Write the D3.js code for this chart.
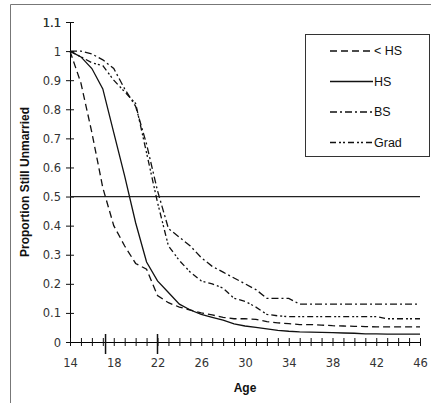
<!DOCTYPE html>
<html>
<head>
<meta charset="utf-8">
<script src="https://cdn.jsdelivr.net/npm/d3@7"></script>
<style>
body { margin:0; background:#fff; }
.tick text { font-family:"DejaVu Sans", sans-serif; font-size:11.5px; fill:#333; }
.ttl { font-family:"Liberation Sans", Arial, sans-serif; font-size:12px; font-weight:bold; fill:#111; }
.leg { font-family:"Liberation Sans", Arial, sans-serif; font-size:12.5px; fill:#111; }
</style>
</head>
<body>
<div id="chart"></div>
<script>
var ages = d3.range(14, 47);

// proportion still unmarried (ages 14..46)
var lessHS = [1, 0.89, 0.72, 0.53, 0.40, 0.33, 0.27, 0.25, 0.16, 0.135, 0.12, 0.11, 0.10, 0.093, 0.085, 0.08, 0.08,
  0.078, 0.07, 0.066, 0.063, 0.06, 0.06, 0.058, 0.056, 0.055, 0.054, 0.053, 0.052, 0.052, 0.052, 0.052, 0.052];
var hs = [1, 0.98, 0.94, 0.87, 0.72, 0.57, 0.41, 0.275, 0.21, 0.17, 0.13, 0.11, 0.095, 0.085, 0.075, 0.062, 0.055,
  0.05, 0.045, 0.04, 0.037, 0.035, 0.034, 0.033, 0.032, 0.031, 0.03, 0.028, 0.028, 0.027, 0.027, 0.027, 0.027];
var bs = [1, 1, 0.99, 0.97, 0.94, 0.87, 0.81, 0.68, 0.52, 0.39, 0.36, 0.33, 0.29, 0.26, 0.24, 0.22, 0.2,
  0.18, 0.15, 0.15, 0.15, 0.13, 0.13, 0.13, 0.13, 0.13, 0.13, 0.13, 0.13, 0.13, 0.13, 0.13, 0.13];
var grad = [1, 0.98, 0.96, 0.95, 0.9, 0.86, 0.82, 0.65, 0.48, 0.33, 0.28, 0.24, 0.21, 0.2, 0.185, 0.15, 0.14,
  0.12, 0.095, 0.09, 0.087, 0.087, 0.087, 0.087, 0.087, 0.087, 0.087, 0.087, 0.087, 0.08, 0.08, 0.08, 0.08];

var seriesNames = ["< HS", "HS", "BS", "Grad"];
var seriesDash = ["7,4", null, "7,3,2,3", "6,3,2,2,2,3"];
var seriesVals = [lessHS, hs, bs, grad];

var yTicks = d3.range(0, 12).map(function(i){ return i / 10; });
var xTicks = d3.range(14, 47);
var xLabels = [14, 18, 22, 26, 30, 34, 38, 42, 46];
var markAges = [17.25, 22];
var refLevel = 0.5;

var width = 431, height = 403;

var svg = d3.select("#chart").append("svg")
    .attr("width", width)
    .attr("height", height);

// outer frame (left and top edges only visible)
svg.append("path")
    .attr("d", "M10.5,403V4.5H431")
    .attr("fill", "none")
    .attr("stroke", "#777")
    .attr("stroke-width", 1);

var x = d3.scaleLinear().domain([14, 46]).range([70, 420]);
var y = d3.scaleLinear().domain([0, 1.1]).range([342, 22]);

// y axis
var gy = svg.append("g")
    .attr("transform", "translate(70,0)")
    .call(d3.axisLeft(y).tickValues(yTicks.concat([1.1]))
      .tickSize(4).tickPadding(5)
      .tickFormat(function(d){ return String(+d.toFixed(1)); }));
gy.select(".domain").attr("d", "M0.5," + y(0) + "V" + y(1.1));
gy.selectAll(".tick line").attr("x1", 4).attr("stroke", "#111");
gy.selectAll(".tick text").attr("dy", "0.35em");

// x axis
var gx = svg.append("g")
    .attr("transform", "translate(0," + y(0) + ")")
    .call(d3.axisBottom(x).tickValues(xTicks).tickSize(4).tickPadding(11)
      .tickFormat(function(d){ return xLabels.indexOf(d) >= 0 ? d : ""; }));
gx.select(".domain").attr("d", "M" + x(14) + ",0.5H" + x(46));
gx.selectAll(".tick line").attr("y1", -4).attr("stroke", "#111");
gx.selectAll(".tick text").attr("dy", "0.9em");

svg.append("g").selectAll("line")
    .data(markAges)
    .enter().append("line")
      .attr("x1", function(d){ return x(d); })
      .attr("x2", function(d){ return x(d); })
      .attr("y1", y(0) - 8)
      .attr("y2", y(0) + 12)
      .attr("stroke", "#111")
      .attr("stroke-width", 1.5);

// reference line at 0.5
svg.append("line")
    .attr("x1", x(14)).attr("x2", x(46))
    .attr("y1", y(refLevel)).attr("y2", y(refLevel))
    .attr("stroke", "#222")
    .attr("stroke-width", 1.2);

var line = d3.line()
    .x(function(d, i){ return x(ages[i]); })
    .y(function(d){ return y(d); });

svg.append("g").selectAll("path")
    .data(seriesVals)
    .enter().append("path")
      .attr("d", line)
      .attr("fill", "none")
      .attr("stroke", "#111")
      .attr("stroke-width", 1.3)
      .attr("stroke-dasharray", function(d, i){ return seriesDash[i]; });

// titles
svg.append("text")
    .attr("class", "ttl")
    .attr("transform", "translate(29,182) rotate(-90)")
    .attr("text-anchor", "middle")
    .text("Proportion Still Unmarried");

svg.append("text")
    .attr("class", "ttl")
    .attr("x", 245).attr("y", 392)
    .attr("text-anchor", "middle")
    .text("Age");

// legend
var leg = svg.append("g").attr("transform", "translate(305,34)");
leg.append("rect")
    .attr("x", 0.5).attr("y", 0.5)
    .attr("width", 124).attr("height", 122)
    .attr("fill", "#fff")
    .attr("stroke", "#333");

var items = leg.selectAll("g.item")
    .data(seriesNames)
    .enter().append("g")
      .attr("class", "item")
      .attr("transform", function(d, i){ return "translate(0," + (17 + i * 30.5) + ")"; });

items.append("line")
    .attr("x1", 25).attr("x2", 68)
    .attr("stroke", "#111")
    .attr("stroke-width", 1.6)
    .attr("stroke-dasharray", function(d, i){ return seriesDash[i]; });

items.append("text")
    .attr("class", "leg")
    .attr("x", 69).attr("y", 0)
    .attr("dy", "0.35em")
    .text(function(d){ return d; });
</script>
</body>
</html>
